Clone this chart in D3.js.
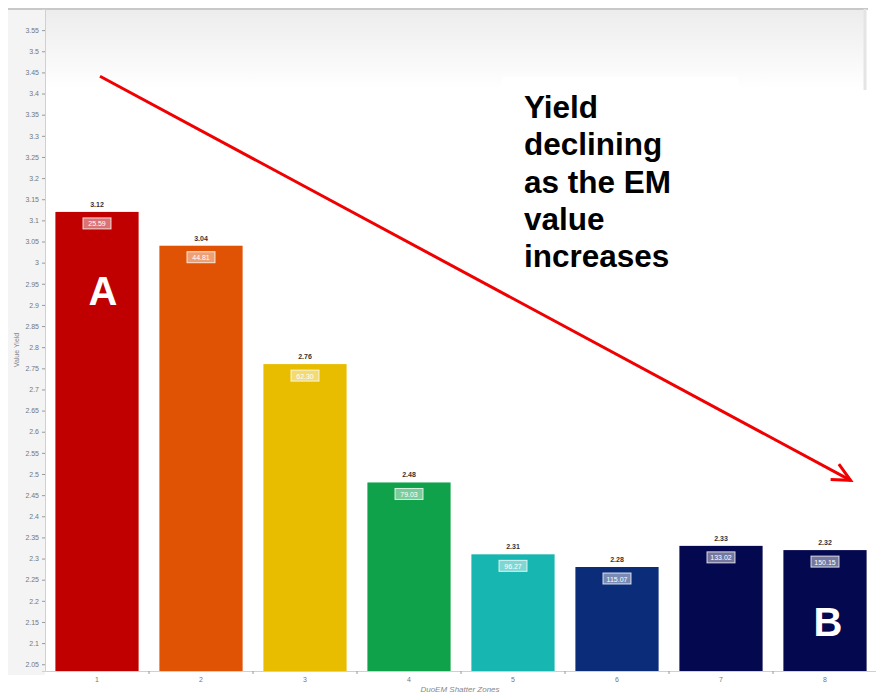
<!DOCTYPE html>
<html>
<head>
<meta charset="utf-8">
<script src="https://cdn.jsdelivr.net/npm/d3@7"></script>
<style>
body { margin: 0; background: #fff; }
svg { display: block; font-family: "Liberation Sans", Arial, sans-serif; }
</style>
</head>
<body>
<script>
// chart values
var zones = ["1", "2", "3", "4", "5", "6", "7", "8"];
var yields = [3.12, 3.04, 2.76, 2.48, 2.31, 2.28, 2.33, 2.32];
var emValues = ["25.59", "44.81", "62.30", "79.03", "96.27", "115.07", "133.02", "150.15"];
var barColors = ["#c00000", "#e05204", "#e8bd00", "#0fa24a", "#17b6b0", "#0b2c78", "#04084f", "#04084f"];
var yTicks = [2.05, 2.1, 2.15, 2.2, 2.25, 2.3, 2.35, 2.4, 2.45, 2.5, 2.55, 2.6, 2.65, 2.7, 2.75, 2.8,
    2.85, 2.9, 2.95, 3, 3.05, 3.1, 3.15, 3.2, 3.25, 3.3, 3.35, 3.4, 3.45, 3.5, 3.55];
var noteLines = ["Yield", "declining", "as the EM", "value", "increases"];

function draw() {
    var W = 876, H = 696;
    var svg = d3.select("body").append("svg").attr("width", W).attr("height", H);

    var pTop = 9, pBottom = 671, pLeft = 45, pRight = 877;
    var x = d3.scaleBand().domain(zones).range([pLeft, pRight]).paddingInner(0.2).paddingOuter(0.1);
    var y = d3.scaleLinear().domain([2.034, 3.6]).range([pBottom, pTop]);

    // background: grey left strip + gradient at top of plot
    var defs = svg.append("defs");
    var grad = defs.append("linearGradient").attr("id", "topg").attr("x1", 0).attr("x2", 0).attr("y1", 0).attr("y2", 1);
    grad.append("stop").attr("offset", "0%").attr("stop-color", "#ececec");
    grad.append("stop").attr("offset", "100%").attr("stop-color", "#ffffff");
    svg.append("rect").attr("x", 8).attr("y", pTop).attr("width", pLeft - 8).attr("height", pBottom - pTop + 4).attr("fill", "#f4f4f4");
    svg.append("rect").attr("x", pLeft).attr("y", pTop).attr("width", 820).attr("height", 80).attr("fill", "url(#topg)");
    svg.append("line").attr("x1", 8).attr("x2", 868).attr("y1", pTop).attr("y2", pTop)
        .attr("stroke", "#c8c8c8").attr("stroke-width", 2);
    svg.append("line").attr("x1", 865).attr("x2", 865).attr("y1", pTop).attr("y2", 90)
        .attr("stroke", "#e4e4e4").attr("stroke-width", 3);

    // y axis
    var yAxis = d3.axisLeft(y).tickValues(yTicks).tickSize(3).tickFormat(d3.format(""));
    var gy = svg.append("g").attr("transform", "translate(" + pLeft + ",0)").call(yAxis);
    gy.select(".domain").attr("stroke", "#c4d4d8");
    gy.selectAll(".tick line").attr("stroke", "#999");
    gy.selectAll(".tick text").attr("font-size", 7).attr("fill", "#777");

    svg.append("text").attr("transform", "translate(19,350) rotate(-90)")
        .attr("text-anchor", "middle").attr("font-size", 7).attr("fill", "#888").text("Value Yield");

    // x axis
    var gx = svg.append("g").attr("transform", "translate(0," + pBottom + ")")
        .call(d3.axisBottom(x).tickSize(0).tickPadding(6));
    gx.select(".domain").attr("stroke", "#c4d4d8");
    gx.selectAll(".tick text").attr("font-size", 7).attr("fill", "#777");
    // small ticks between the bands
    svg.append("g").selectAll("line").data(zones.slice(1)).join("line")
        .attr("x1", d => x(d) - x.step() * x.paddingInner() / 2)
        .attr("x2", d => x(d) - x.step() * x.paddingInner() / 2)
        .attr("y1", pBottom).attr("y2", pBottom + 3)
        .attr("stroke", "#999");
    svg.append("text").attr("x", 460).attr("y", 692).attr("text-anchor", "middle")
        .attr("font-size", 8).attr("font-style", "italic").attr("fill", "#888").text("DuoEM Shatter Zones");

    // bars
    var bars = svg.append("g").selectAll("g").data(zones).join("g");
    bars.append("rect")
        .attr("x", d => x(d))
        .attr("y", (d, i) => y(yields[i]))
        .attr("width", x.bandwidth())
        .attr("height", (d, i) => pBottom - y(yields[i]))
        .attr("fill", (d, i) => barColors[i]);
    bars.append("text")
        .attr("x", d => x(d) + x.bandwidth() / 2)
        .attr("y", (d, i) => y(yields[i]) - 5)
        .attr("text-anchor", "middle").attr("font-size", 7).attr("font-weight", "bold").attr("fill", "#333")
        .text((d, i) => yields[i].toFixed(2));
    bars.append("rect")
        .attr("x", d => x(d) + x.bandwidth() / 2 - 14)
        .attr("y", (d, i) => y(yields[i]) + 6)
        .attr("width", 28).attr("height", 11)
        .attr("fill", "rgba(255,255,255,0.45)").attr("stroke", "rgba(255,255,255,0.8)").attr("stroke-width", 1);
    bars.append("text")
        .attr("x", d => x(d) + x.bandwidth() / 2)
        .attr("y", (d, i) => y(yields[i]) + 14.5)
        .attr("text-anchor", "middle").attr("font-size", 7).attr("fill", "#fff")
        .text((d, i) => emValues[i]);

    // annotation box with text
    svg.append("rect").attr("x", 502).attr("y", 77).attr("width", 236).attr("height", 200).attr("fill", "#fff");
    svg.append("text").attr("x", 524).attr("y", 118)
        .attr("font-size", 31.5).attr("font-weight", "bold").attr("fill", "#000")
        .selectAll("tspan").data(noteLines).join("tspan")
        .attr("x", 524).attr("dy", (d, i) => i === 0 ? 0 : 37.3).text(d => d);

    // red trend arrow
    var x0 = x("1") + x.bandwidth() / 2 + 3, y0 = y(3.441);
    var x1 = x("8") + x.bandwidth() - 16, y1 = y(2.485);
    svg.append("line").attr("x1", x0).attr("y1", y0).attr("x2", x1).attr("y2", y1)
        .attr("stroke", "#f00000").attr("stroke-width", 3);
    var ang = Math.atan2(y1 - y0, x1 - x0);
    var hl = 20, spread = 0.45;
    svg.append("polyline")
        .attr("points", [
            [x1 - hl * Math.cos(ang - spread), y1 - hl * Math.sin(ang - spread)],
            [x1, y1],
            [x1 - hl * Math.cos(ang + spread), y1 - hl * Math.sin(ang + spread)]
        ].map(p => p.join(",")).join(" "))
        .attr("fill", "none").attr("stroke", "#f00000").attr("stroke-width", 3);

    // A / B markers
    svg.append("text").attr("x", x("1") + x.bandwidth() / 2 + 6).attr("y", y(2.9))
        .attr("text-anchor", "middle").attr("font-size", 40).attr("font-weight", "bold").attr("fill", "#fff").text("A");
    svg.append("text").attr("x", x("8") + x.bandwidth() / 2 + 3).attr("y", y(2.117))
        .attr("text-anchor", "middle").attr("font-size", 40).attr("font-weight", "bold").attr("fill", "#fff").text("B");
}
draw();
</script>
</body>
</html>
